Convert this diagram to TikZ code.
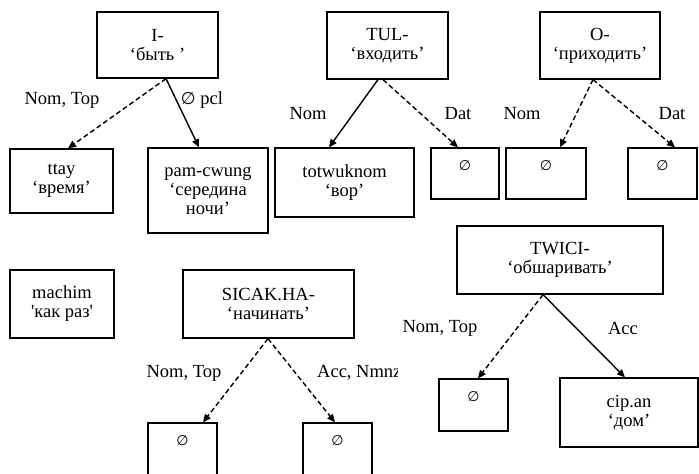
\documentclass[tikz,border=0pt]{standalone}
\usepackage{fontspec}
\setmainfont{Liberation Serif}
\newfontfamily\symfont{DejaVu Sans}
\usetikzlibrary{arrows.meta}
\newcommand\nul{{\symfont\fontsize{14}{16}\selectfont ∅}}
\newcommand\nullbl{{\symfont\fontsize{17}{19}\selectfont ∅}}

\begin{document}
\begin{tikzpicture}[x=1pt,y=-1pt,
  every node/.style={font=\fontsize{18.5}{19}\selectfont},
  box/.style={draw, line width=1.3pt, align=center, inner sep=0pt},
  zbox/.style={box, label={[anchor=center, yshift=-18pt]north:{\nul}}},
  link/.style={line width=1.4pt, -{Triangle[length=8pt,width=7pt]}},
  opt/.style={link, dash pattern=on 5pt off 3pt},
  lbl/.style={inner sep=0pt}]
\useasboundingbox (0,0) rectangle (699,474);

% upper row: predicates
\node[box, minimum width=121pt, minimum height=66pt] (I) at (157.5,45) {I-\\‘быть ’};
\node[box, minimum width=121pt, minimum height=67pt] (TUL) at (387.5,45.5) {TUL-\\‘входить’};
\node[box, minimum width=120pt, minimum height=67pt] (O) at (600,45.5) {O-\\‘приходить’};

% upper row: arguments
\node[box, minimum width=103pt, minimum height=64pt] (ttay) at (61.5,181) {ttay\\‘время’};
\node[box, minimum width=120pt, minimum height=85pt] (pam) at (208,190.5) {pam-cwung\\‘середина\\ночи’};
\node[box, minimum width=139pt, minimum height=69pt] (tot) at (344.5,182.5) {totwuknom\\‘вор’};
\node[zbox, minimum width=68pt, minimum height=51pt] (z1) at (465,173.5) {};
\node[zbox, minimum width=80pt, minimum height=51pt] (z2) at (546,173.5) {};
\node[zbox, minimum width=69pt, minimum height=51pt] (z3) at (662.5,173.5) {};

% lower part
\node[box, minimum width=104pt, minimum height=68pt] (machim) at (62,304) {machim\\\textquotesingle как раз\textquotesingle};
\node[box, minimum width=171pt, minimum height=68pt] (SICAK) at (268.5,304) {SICAK.HA-\\‘начинать’};
\node[zbox, minimum width=69pt, minimum height=58pt] (z4) at (182.5,452) {};
\node[zbox, minimum width=69pt, minimum height=58pt] (z5) at (337.5,452) {};
\node[box, minimum width=206pt, minimum height=68pt] (TWICI) at (560,260) {TWICI-\\‘обшаривать’};
\node[zbox, minimum width=69pt, minimum height=52pt] (z6) at (473.5,405) {};
\node[box, minimum width=138pt, minimum height=69pt] (cip) at (629,412.5) {cip.an\\‘дом’};

% connectors
\draw[opt]  ([xshift=8.5pt]I.south) -- ([xshift=6.5pt]ttay.north);
\draw[link] ([xshift=8.5pt]I.south) -- ([xshift=-9pt]pam.north);
\draw[link] ([xshift=-9.5pt]TUL.south) -- ([xshift=-15.5pt]tot.north);
\draw[opt]  ([xshift=-4.5pt]TUL.south) -- ([xshift=-7pt]z1.north);
\draw[opt]  ([xshift=-7pt]O.south) -- ([xshift=14pt]z2.north);
\draw[opt]  ([xshift=-7pt]O.south) -- ([xshift=12.5pt]z3.north);
\draw[opt]  ([xshift=-0.5pt]SICAK.south) -- ([xshift=20.5pt]z4.north);
\draw[opt]  ([xshift=-0.5pt]SICAK.south) -- ([xshift=-2.5pt]z5.north);
\draw[opt]  ([xshift=-17pt]TWICI.south) -- ([xshift=4.5pt]z6.north);
\draw[link] ([xshift=-17pt]TWICI.south) -- ([xshift=-4pt]cip.north);

% connector labels
\node[lbl] (l1) at (62,100) {Nom, Top};
\node[lbl] (l2) at (202,100) {\nullbl\ pcl};
\node[lbl] (l3) at (308,114) {Nom};
\node[lbl] (l4) at (458,114) {Dat};
\node[lbl] (l5) at (522,114) {Nom};
\node[lbl] (l6) at (672,114) {Dat};
\node[lbl] (l7) at (184,373) {Nom, Top};
\begin{scope}
  \clip (300,350) rectangle (397,400);
  \node[lbl, anchor=west] (l8) at (317,373) {Acc, Nmnz};
\end{scope}
\node[lbl] (l9) at (440,328) {Nom, Top};
\node[lbl] (l10) at (623,328) {Acc};
\end{tikzpicture}
\end{document}
